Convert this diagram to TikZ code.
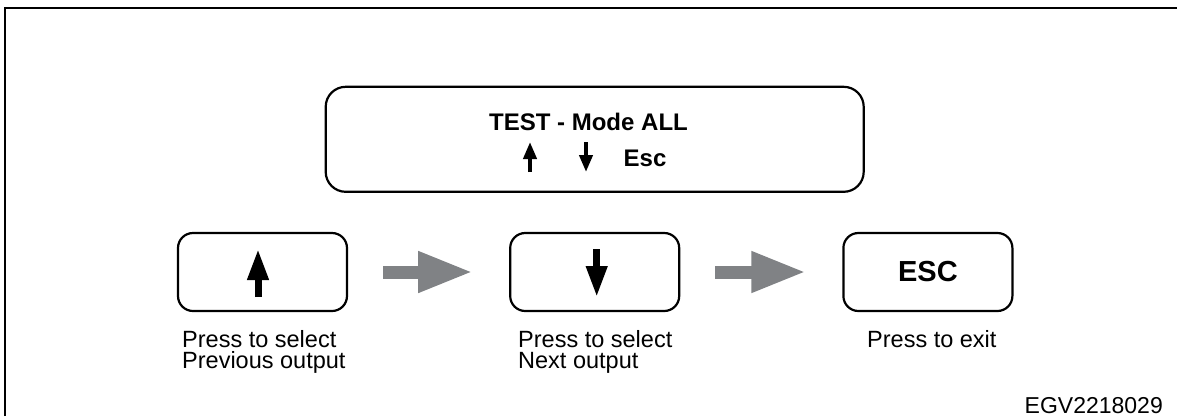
\documentclass[tikz,border=0pt]{standalone}
\usepackage{fontspec}
\setmainfont{Liberation Sans}
\usepackage{xcolor}
\usetikzlibrary{arrows.meta,positioning,calc}
\definecolor{flowgray}{RGB}{128,130,133}

\begin{document}
\begin{tikzpicture}[
  x=1pt, y=-1pt,
  screen/.style={draw, line width=2.2pt, rounded corners=20pt, minimum width=538pt, minimum height=105pt, inner sep=0pt},
  key/.style={draw, line width=2.2pt, rounded corners=15pt, minimum width=169pt, minimum height=78pt, inner sep=0pt},
  lcd/.style={font=\fontsize{24}{26}\selectfont\bfseries, inner sep=0pt, anchor=base},
  note/.style={font=\fontsize{23.5}{21.5}\selectfont, align=left, inner sep=0pt, anchor=base west},
  flow/.style={-{Triangle[length=55pt,width=38pt]}, line width=13pt, flowgray},
  bigarr/.style={-{Triangle[length=31pt,width=20pt]}, line width=7pt},
  smallarr/.style={-{Triangle[length=17pt,width=13pt]}, line width=4pt}
]
\useasboundingbox (0,0) rectangle (1177,416);
% frame
\draw[line width=2pt] (5,416) -- (5,8) -- (1177,8);
% keys
\node[key] (up) at (262.5,272) {};
\node[key, right=161pt of up] (down) {};
\node[key, right=162pt of down] (esc) {\fontsize{29}{30}\selectfont\bfseries ESC};
% display
\node[screen, above=39pt of down] (lcd) {};
\node[lcd] (title) at (588.5,130) {TEST - Mode ALL};
\node[lcd] (esctxt) at (645,166) {Esc};
\draw[smallarr] (530,172) -- (530,142);
\draw[smallarr] (586,142) -- (586,172);
% key symbols
\draw[bigarr] ($(up.center)+(-4.5,25)$) -- ($(up.center)+(-4.5,-23)$);
\draw[bigarr] ($(down.center)+(2,-23)$) -- ($(down.center)+(2,25)$);
% flow
\draw[flow, shorten <=35pt, shorten >=36pt] (up) -- (down);
\draw[flow, shorten <=35pt, shorten >=36pt] (down) -- (esc);
% captions
\node[note] (n1) at (182,368.5) {Press to select\\Previous output};
\node[note] (n2) at (518,368.5) {Press to select\\Next output};
\node[note] (n3) at (867,347) {Press to exit};
\node[note, anchor=base east, font=\fontsize{23}{24}\selectfont] (code) at (1163,413) {EGV2218029};
\end{tikzpicture}
\end{document}
